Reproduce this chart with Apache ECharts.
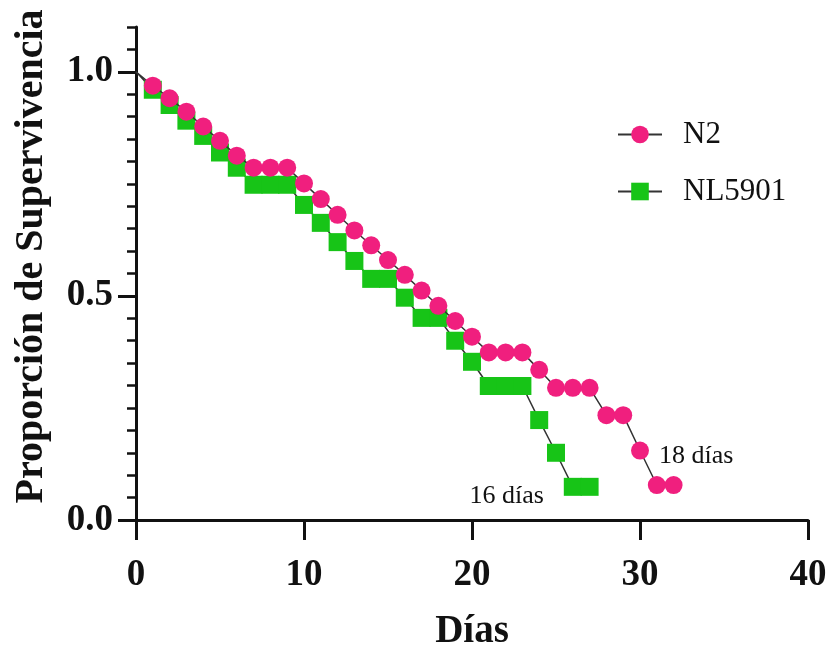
<!DOCTYPE html>
<html>
<head>
<meta charset="utf-8">
<script src="https://cdn.jsdelivr.net/npm/echarts@6/dist/echarts.min.js"></script>
<style>
  html, body { margin: 0; padding: 0; background: #fff; }
  #chart { width: 835px; height: 650px; }
</style>
</head>
<body>
<div id="chart"></div>
<script>
// days and survival proportions
const daysN2 = [0, 1, 2, 3, 4, 5, 6, 7, 8, 9, 10, 11, 12, 13, 14, 15, 16, 17, 18, 19, 20, 21, 22, 23, 24, 25, 26, 27, 28, 29, 30, 31, 32]
const survN2 = [1.0, 0.969, 0.941, 0.911, 0.878, 0.846, 0.813, 0.786, 0.786, 0.786, 0.751, 0.716, 0.681, 0.646, 0.613, 0.58, 0.547, 0.512, 0.478, 0.444, 0.409, 0.374, 0.374, 0.374, 0.335, 0.295, 0.295, 0.295, 0.234, 0.234, 0.155, 0.078, 0.078]

const daysNL = [0, 1, 2, 3, 4, 5, 6, 7, 8, 9, 10, 11, 12, 13, 14, 15, 16, 17, 18, 19, 20, 21, 22, 23, 24, 25, 26, 27]
const survNL = [1.0, 0.96, 0.926, 0.891, 0.857, 0.82, 0.786, 0.748, 0.748, 0.748, 0.703, 0.663, 0.62, 0.578, 0.538, 0.538, 0.496, 0.451, 0.451, 0.4, 0.353, 0.299, 0.299, 0.299, 0.223, 0.15, 0.074, 0.074]

const xTicks = [0, 10, 20, 30, 40]
const yTickLabels = [0, 0.5, 1.0]

const pink = "#F01F7E"
const green = "#17C417"
const serif = "Liberation Serif"

// N2 label on day 30, NL5901 label on day 26
function buildData(days, surv, labelDay, label) {
  return days.map(function (d, i) {
    const item = { value: [d, surv[i]] }
    if (d === 0) item.symbol = "none" // line starts at (0, 1) without marker
    if (d === labelDay) item.label = label
    return item
  })
}

const chart = echarts.init(document.getElementById("chart"))

const option = {
  animation: false,
  grid: { left: 136, right: 27, top: 27, bottom: 130, containLabel: false, outerBoundsMode: "none" },
  legend: {
    orient: "vertical",
    left: 612,
    top: 114,
    itemWidth: 44,
    itemHeight: 22,
    itemGap: 26,
    data: ["N2", "NL5901"],
    textStyle: { fontFamily: serif, fontSize: 31, color: "#111", padding: [0, 0, 0, 16] },
  },
  xAxis: {
    type: "value",
    min: 0,
    max: 40,
    interval: 10,
    name: "Días",
    nameLocation: "middle",
    nameGap: 92,
    nameTextStyle: { fontFamily: serif, fontWeight: "bold", fontSize: 39, color: "#111" },
    axisLine: { lineStyle: { color: "#111", width: 3 } },
    axisTick: { length: 20, lineStyle: { color: "#111", width: 3 } },
    axisLabel: {
      customValues: xTicks,
      margin: 37,
      fontFamily: serif,
      fontWeight: "bold",
      fontSize: 37,
      color: "#111",
    },
    splitLine: { show: false },
  },
  yAxis: [
    {
      // short ticks every 0.05
      type: "value",
      min: 0,
      max: 1.1,
      interval: 0.05,
      axisLine: { show: true, lineStyle: { color: "#111", width: 3 } },
      axisTick: { length: 9, lineStyle: { color: "#111", width: 2.5 } },
      axisLabel: { show: false },
      splitLine: { show: false },
    },
    {
      // long ticks with labels
      type: "value",
      position: "left",
      min: 0,
      max: 1.1,
      interval: 0.5,
      name: "Proporción de Supervivencia",
      nameLocation: "middle",
      nameGap: 84,
      nameTextStyle: {
        fontFamily: serif,
        fontWeight: "bold",
        fontSize: 40,
        color: "#111",
        padding: [0, 0, 0, 34],
      },
      axisLine: { show: false },
      axisTick: { customValues: yTickLabels, length: 18, lineStyle: { color: "#111", width: 3 } },
      axisLabel: {
        customValues: yTickLabels,
        margin: 23,
        formatter: function (v) { return v.toFixed(1) },
        fontFamily: serif,
        fontWeight: "bold",
        fontSize: 37,
        color: "#111",
      },
      splitLine: { show: false },
    },
  ],
  series: [
    {
      name: "NL5901",
      type: "line",
      yAxisIndex: 0,
      symbol: "rect",
      symbolSize: 18,
      itemStyle: { color: green },
      lineStyle: { color: "#333", width: 1.5 },
      data: buildData(daysNL, survNL, 26, {
        show: true,
        position: "left",
        distance: 20,
        offset: [0, 9],
        formatter: "16 días",
        fontFamily: serif,
        fontSize: 26,
        color: "#111",
      }),
      z: 2,
    },
    {
      name: "N2",
      type: "line",
      yAxisIndex: 0,
      symbol: "circle",
      symbolSize: 18,
      itemStyle: { color: pink },
      lineStyle: { color: "#333", width: 1.5 },
      data: buildData(daysN2, survN2, 30, {
        show: true,
        position: "right",
        distance: 10,
        offset: [0, 6],
        formatter: "18 días",
        fontFamily: serif,
        fontSize: 26,
        color: "#111",
      }),
      z: 3,
    },
  ],
}

chart.setOption(option)
</script>
</body>
</html>
